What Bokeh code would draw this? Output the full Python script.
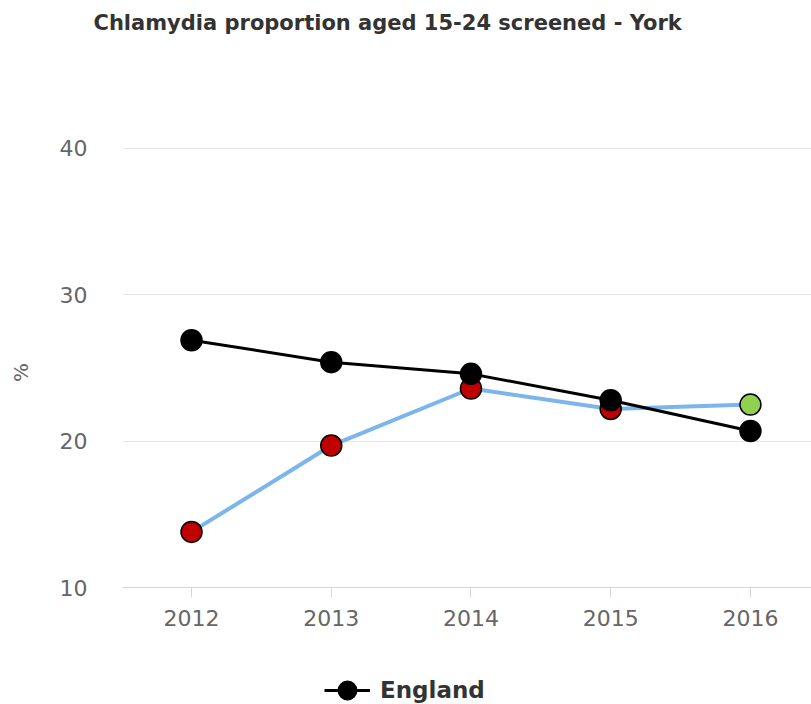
from bokeh.plotting import figure
from bokeh.models import (Range1d, FixedTicker, Legend, LegendItem,
                          ColumnDataSource)
from bokeh.embed import file_html
from bokeh.resources import INLINE

# ---- data ----
years = [2012, 2013, 2014, 2015, 2016]
england = [26.9, 25.4, 24.6, 22.8, 20.7]
york = [13.8, 19.7, 23.6, 22.2, 22.5]
york_significance = ["worse", "worse", "worse", "worse", "better"]
y_ticks = [10, 20, 30, 40]
title_text = "Chlamydia proportion aged 15-24 screened - York"
y_label = "%"
england_name = "England"

sig_colors = {"worse": "#c00000", "better": "#92d050"}

FONT = "DejaVu Sans"

# frame spans the full height below the title; the y range is padded so the
# 10..40 band sits where the reference draws it and the legend fits below.
p = figure(
    width=811, height=704,
    x_range=Range1d(2011.506, 2016.437),
    y_range=Range1d(2.005, 47.38),
    output_backend="svg", toolbar_location=None,
    min_border_left=122, min_border_right=0,
    min_border_top=40, min_border_bottom=0,
)
p.outline_line_color = None
p.background_fill_color = "white"
p.border_fill_color = "white"

# title
p.title.text = title_text
p.title.align = "left"
p.title.offset = -29
p.title.text_font = FONT
p.title.text_font_style = "bold"
p.title.text_font_size = "21px"
p.title.text_color = "#333333"
p.title.standoff = 11

# x axis drawn at y = 10 inside the frame
xa = p.below[0]
xa.fixed_location = y_ticks[0]
xa.ticker = FixedTicker(ticks=years)
xa.axis_line_color = "#ccd6eb"
xa.major_tick_line_color = "#ccd6eb"
xa.major_tick_out = 10
xa.major_tick_in = 0
xa.minor_tick_line_color = None
xa.major_label_text_font = FONT
xa.major_label_text_font_size = "22px"
xa.major_label_text_color = "#666666"
xa.major_label_standoff = 12

ya = p.left[0]
ya.ticker = FixedTicker(ticks=y_ticks)
ya.axis_line_color = None
ya.major_tick_line_color = None
ya.minor_tick_line_color = None
ya.major_label_text_font = FONT
ya.major_label_text_font_size = "22px"
ya.major_label_text_color = "#666666"
ya.major_label_standoff = 29
ya.axis_label = y_label
ya.axis_label_text_font = FONT
ya.axis_label_text_font_style = "normal"
ya.axis_label_text_font_size = "20px"
ya.axis_label_text_color = "#666666"
ya.axis_label_standoff = 24

p.xgrid.grid_line_color = None
p.ygrid.ticker = FixedTicker(ticks=y_ticks)
p.ygrid.grid_line_color = "#e6e6e6"
p.ygrid.grid_line_width = 1

# York
ysrc = ColumnDataSource(dict(x=years, y=york,
                             c=[sig_colors[s] for s in york_significance]))
p.line("x", "y", source=ysrc, line_color="#7cb5ec", line_width=4)
p.scatter("x", "y", source=ysrc, size=21, fill_color="c",
          line_color="black", line_width=1.5)

# England
esrc = ColumnDataSource(dict(x=years, y=england))
el = p.line("x", "y", source=esrc, line_color="black", line_width=3)
es = p.scatter("x", "y", source=esrc, size=21, fill_color="black",
               line_color="black", line_width=1.5)

legend = Legend(items=[LegendItem(label=england_name, renderers=[el, es])],
                orientation="horizontal", location=(202, -9),
                padding=0, margin=0, spacing=0,
                glyph_width=46, glyph_height=46, label_standoff=10,
                label_text_font=FONT, label_text_font_style="bold",
                label_text_font_size="23px", label_text_color="#333333",
                background_fill_alpha=0, border_line_color=None)
p.add_layout(legend, "center")

open("out.html", "w").write(file_html(p, INLINE))
